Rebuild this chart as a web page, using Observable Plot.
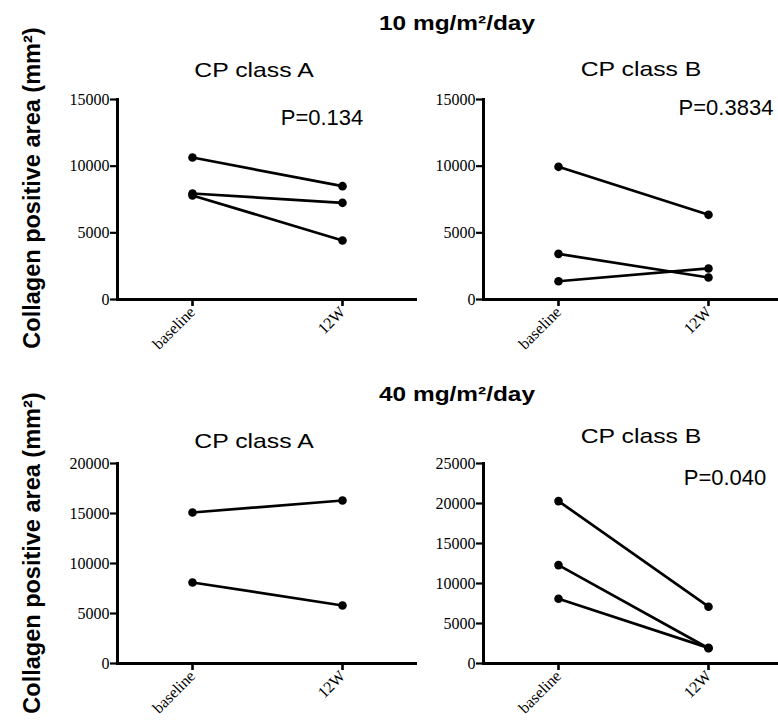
<!DOCTYPE html>
<html>
<head>
<meta charset="utf-8">
<script src="https://cdn.jsdelivr.net/npm/d3@7"></script>
<script src="https://cdn.jsdelivr.net/npm/@observablehq/plot@0.6"></script>
<style>
  html, body { margin: 0; padding: 0; background: #fff; overflow: hidden; }
  #wrap { position: relative; width: 778px; height: 722px; overflow: hidden; font-family: Arial, "Liberation Sans", sans-serif; color: #000; }
  .panel { position: absolute; }
  .txt { position: absolute; line-height: 1; white-space: nowrap; transform: translate(-50%, -50%); }
  .dose { font-weight: bold; font-size: 20px; transform: translate(-50%, -50%) scaleX(1.22); }
  .sub { font-size: 21px; transform: translate(-50%, -50%) scaleX(1.18); }
  .pval { font-size: 22px; }
  .ylab { font-weight: bold; font-size: 23.5px; transform: translate(-50%, -50%) rotate(-90deg); }
</style>
</head>
<body>
<div id="wrap"></div>
<script>
// ---- data ----
const times = ["baseline", "12W"];

const dose10_A_baseline = [10650, 7950, 7800];
const dose10_A_12W      = [8500, 7250, 4430];

const dose10_B_baseline = [9950, 3420, 1370];
const dose10_B_12W      = [6350, 1650, 2330];

const dose40_A_baseline = [15100, 8100];
const dose40_A_12W      = [16300, 5800];

const dose40_B_baseline = [20300, 12300, 8100];
const dose40_B_12W      = [7100, 1900, 1950];

const ticks10 = [0, 5000, 10000, 15000];
const ticks40A = [0, 5000, 10000, 15000, 20000];
const ticks40B = [0, 5000, 10000, 15000, 20000, 25000];

const doseLabels = ["10 mg/m²/day", "40 mg/m²/day"];
const classLabels = ["CP class A", "CP class B"];
const pValues = ["P=0.134", "P=0.3834", "", "P=0.040"];
const yLabel = "Collagen positive area  (mm²)";

function rows(base, w12) {
  const out = [];
  base.forEach((v, i) => {
    out.push({subject: i, time: times[0], value: v});
    out.push({subject: i, time: times[1], value: w12[i]});
  });
  return out;
}

const panels = [
  {data: rows(dose10_A_baseline, dose10_A_12W), ticks: ticks10, left: 57, top: 89},
  {data: rows(dose10_B_baseline, dose10_B_12W), ticks: ticks10, left: 423, top: 89},
  {data: rows(dose40_A_baseline, dose40_A_12W), ticks: ticks40A, left: 57, top: 453},
  {data: rows(dose40_B_baseline, dose40_B_12W), ticks: ticks40B, left: 423, top: 453}
];

const wrap = document.getElementById("wrap");

panels.forEach(p => {
  const chart = Plot.plot({
    width: 360,
    height: 266,
    marginLeft: 60,
    marginRight: 0,
    marginTop: 10,
    marginBottom: 56,
    style: {fontFamily: "'Liberation Serif', 'Times New Roman', serif", fontSize: "16px", background: "transparent", overflow: "visible"},
    x: {type: "point", domain: times, padding: 0.5},
    y: {domain: [0, p.ticks[p.ticks.length - 1]]},
    marks: [
      Plot.axisY({ticks: p.ticks, tickFormat: d => String(d), tickSize: 7, tickPadding: 1, strokeWidth: 2.2, label: null, fontSize: 16}),
      Plot.axisX({tickRotate: -45, tickSize: 7, tickPadding: 3, strokeWidth: 2.6, label: null, fontSize: 16}),
      Plot.line(p.data, {x: "time", y: "value", z: "subject", stroke: "#000", strokeWidth: 2.7}),
      Plot.dot(p.data, {x: "time", y: "value", r: 4.3, fill: "#000", stroke: "none"}),
      Plot.frame({anchor: "left", stroke: "#000", strokeWidth: 3}),
      Plot.ruleY([0], {stroke: "#000", strokeWidth: 3})
    ]
  });
  chart.classList.add("panel");
  chart.style.left = p.left + "px";
  chart.style.top = p.top + "px";
  wrap.appendChild(chart);
});

function addText(text, cls, x, y) {
  const d = document.createElement("div");
  d.className = "txt " + cls;
  d.textContent = text;
  d.style.left = x + "px";
  d.style.top = y + "px";
  wrap.appendChild(d);
}

addText(doseLabels[0], "dose", 457, 23);
addText(doseLabels[1], "dose", 457, 394);
addText(classLabels[0], "sub", 254, 69);
addText(classLabels[1], "sub", 641, 68);
addText(classLabels[0], "sub", 254, 440);
addText(classLabels[1], "sub", 641, 435);
addText(pValues[0], "pval", 322, 118);
addText(pValues[1], "pval", 726, 108);
addText(pValues[3], "pval", 725, 478);
addText(yLabel, "ylab", 33, 188);
addText(yLabel, "ylab", 33, 553);
</script>
</body>
</html>
